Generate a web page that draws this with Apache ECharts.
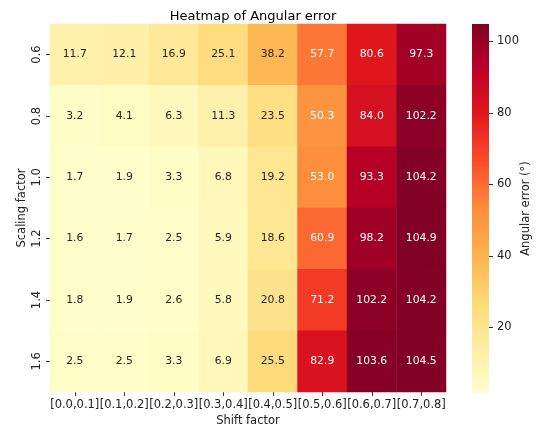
<!DOCTYPE html>
<html>
<head>
<meta charset="utf-8">
<script src="https://cdn.jsdelivr.net/npm/echarts@6/dist/echarts.min.js"></script>
<style>html,body{margin:0;padding:0;background:#fff}#c{width:542px;height:428px}</style>
</head>
<body>
<div id="c"></div>
<script>
const shiftLabels = ['[0.0,0.1]','[0.1,0.2]','[0.2,0.3]','[0.3,0.4]','[0.4,0.5]','[0.5,0.6]','[0.6,0.7]','[0.7,0.8]'];
const scaleLabels = ['0.6','0.8','1.0','1.2','1.4','1.6'];
const row06 = [11.7, 12.1, 16.9, 25.1, 38.2, 57.7, 80.6, 97.3];
const row08 = [3.2, 4.1, 6.3, 11.3, 23.5, 50.3, 84.0, 102.2];
const row10 = [1.7, 1.9, 3.3, 6.8, 19.2, 53.0, 93.3, 104.2];
const row12 = [1.6, 1.7, 2.5, 5.9, 18.6, 60.9, 98.2, 104.9];
const row14 = [1.8, 1.9, 2.6, 5.8, 20.8, 71.2, 102.2, 104.2];
const row16 = [2.5, 2.5, 3.3, 6.9, 25.5, 82.9, 103.6, 104.5];
const cbarTicks = [20, 40, 60, 80, 100];
const cmap = ['#ffffcc','#ffeda0','#fed976','#feb24c','#fd8d3c','#fc4e2a','#e31a1c','#bd0026','#800026'];

const rows = [row06, row08, row10, row12, row14, row16];
const allVals = rows.flat();
const vmin = Math.min(...allVals), vmax = Math.max(...allVals);
const data = [];
rows.forEach((r, yi) => r.forEach((v, xi) => {
  data.push({value: [xi, yi, v], label: {color: v > 45 ? '#ffffff' : '#262626'}});
}));

const font = 'DejaVu Sans';
const chart = echarts.init(document.getElementById('c'));
const gradStops = cmap.map((c, i) => ({offset: 1 - i / (cmap.length - 1), color: c}));
chart.setOption({
  animation: false,
  textStyle: {fontFamily: font},
  title: {text: 'Heatmap of Angular error', left: 248, textAlign: 'center', top: 5,
    textStyle: {fontFamily: font, fontSize: 13, fontWeight: 'normal', color: '#000'}},
  grid: [
    {left: 50, top: 24, width: 396, height: 368, outerBoundsMode: 'none', containLabel: false},
    {left: 472, top: 24, width: 17, height: 369, outerBoundsMode: 'none', containLabel: false}
  ],
  graphic: [{
    type: 'rect', left: 472, top: 24, z: -10, silent: true,
    shape: {width: 17, height: 369},
    style: {fill: new echarts.graphic.LinearGradient(0, 0, 0, 1, gradStops)}
  }],
  xAxis: [
    {type: 'category', data: shiftLabels, gridIndex: 0,
     axisLine: {show: false}, splitLine: {show: false},
     axisTick: {show: true, inside: false, alignWithLabel: true, length: 4, lineStyle: {color: '#333'}},
     axisLabel: {fontSize: 11.5, color: '#222', margin: 7, fontFamily: font, interval: 0},
     name: 'Shift factor', nameLocation: 'middle', nameGap: 23, nameMoveOverlap: false,
     nameTextStyle: {fontSize: 11.5, color: '#222', fontFamily: font}},
    {type: 'value', gridIndex: 1, show: false, min: 0, max: 1}
  ],
  yAxis: [
    {type: 'category', data: scaleLabels, inverse: true, gridIndex: 0,
     axisLine: {show: false}, splitLine: {show: false},
     axisTick: {show: true, inside: false, alignWithLabel: true, length: 4, lineStyle: {color: '#333'}},
     axisLabel: {fontSize: 11.5, color: '#222', rotate: 90, margin: 7, fontFamily: font},
     name: 'Scaling factor', nameLocation: 'middle', nameGap: 22, nameRotate: 90, nameMoveOverlap: false,
     nameTextStyle: {fontSize: 11.5, color: '#222', fontFamily: font}},
    {type: 'value', gridIndex: 1, position: 'right', min: vmin, max: vmax,
     axisLine: {show: false, onZero: false}, splitLine: {show: false},
     axisTick: {show: true, inside: false, length: 4, customValues: cbarTicks, lineStyle: {color: '#333'}},
     axisLabel: {fontSize: 11.5, color: '#222', margin: 8, customValues: cbarTicks, fontFamily: font},
     name: 'Angular error (°)', nameLocation: 'middle', nameGap: 31, nameRotate: 90, nameMoveOverlap: false,
     nameTextStyle: {fontSize: 11.5, color: '#222', fontFamily: font}}
  ],
  visualMap: {
    type: 'continuous', min: vmin, max: vmax, seriesIndex: 0, show: false,
    inRange: {color: cmap}
  },
  series: [{
    type: 'heatmap', xAxisIndex: 0, yAxisIndex: 0, data: data,
    label: {show: true, fontSize: 10.8, fontFamily: font,
      formatter: p => p.value[2].toFixed(1)},
    itemStyle: {borderWidth: 0},
    emphasis: {disabled: true}
  }]
});
</script>
</body>
</html>
